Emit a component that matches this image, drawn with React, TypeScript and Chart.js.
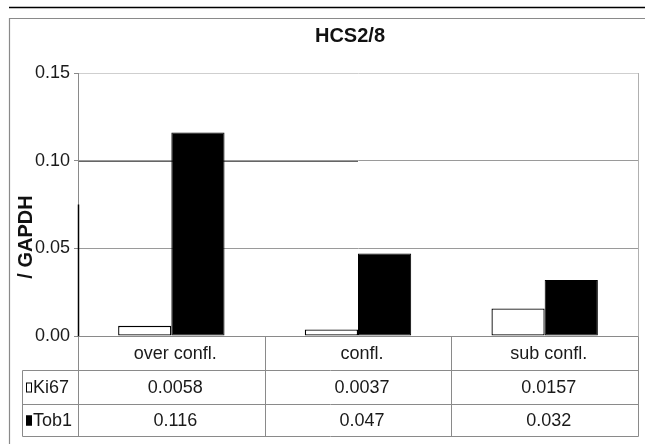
import React, { useEffect, useRef } from "react";
import { Chart, registerables } from "chart.js";

Chart.register(...registerables);

const chartTitle = "HCS2/8";
const yAxisTitle = "/ GAPDH";
const categories = ["over confl.", "confl.", "sub confl."];
const seriesNames = ["Ki67", "Tob1"];
const ki67Values = [0.0058, 0.0037, 0.0157];
const tob1Values = [0.116, 0.047, 0.032];
const yTickValues = [0, 0.05, 0.1, 0.15];

const FONT = "'Liberation Sans', Arial, Helvetica, sans-serif";
const seriesFill = ["#ffffff", "#000000"];
const seriesValues = [ki67Values, tob1Values];

const decorPlugin = {
  id: "decor",
  beforeDraw(chart: any) {
    const ctx = chart.ctx;
    ctx.save();
    ctx.fillStyle = "#ffffff";
    ctx.fillRect(0, 0, chart.width, chart.height);
    ctx.strokeStyle = "#000";
    ctx.lineWidth = 1.5;
    ctx.beginPath();
    ctx.moveTo(9, 7.5);
    ctx.lineTo(chart.width, 7.5);
    ctx.stroke();
    ctx.strokeStyle = "#8a8a8a";
    ctx.lineWidth = 1.2;
    ctx.beginPath();
    ctx.moveTo(9.5, chart.height);
    ctx.lineTo(9.5, 18.5);
    ctx.lineTo(chart.width, 18.5);
    ctx.stroke();
    ctx.fillStyle = "#111";
    ctx.font = `bold 20px ${FONT}`;
    ctx.textAlign = "center";
    ctx.textBaseline = "middle";
    ctx.fillText(chartTitle, 350, 36);
    ctx.translate(26, 237);
    ctx.rotate(-Math.PI / 2);
    ctx.font = `bold 20px ${FONT}`;
    ctx.fillText(yAxisTitle, 0, 0);
    ctx.restore();
  },
  beforeDatasetsDraw(chart: any) {
    const ctx = chart.ctx;
    const xs = chart.scales.x;
    const ys = chart.scales.y;
    const left = Math.round(chart.chartArea.left) + 0.5;
    ctx.save();
    ctx.strokeStyle = "#666";
    ctx.lineWidth = 1;
    ctx.beginPath();
    const g10 = Math.round(ys.getPixelForValue(0.1)) + 0.5;
    ctx.moveTo(left, g10);
    ctx.lineTo(xs.getPixelForValue(1), g10);
    ctx.stroke();
    ctx.restore();
  },
  afterDraw(chart: any) {
    const ctx = chart.ctx;
    const xs = chart.scales.x;
    const ys = chart.scales.y;
    const area = chart.chartArea;
    const n = categories.length;
    const colW = (area.right - area.left) / n;
    const top = Math.round(ys.getPixelForValue(0)) + 0.5;
    const rowH = [34, 34, 32];
    const r1 = top + rowH[0];
    const r2 = r1 + rowH[1];
    const r3 = r2 + rowH[2];
    const legendLeft = 22.5;
    const left = Math.round(area.left) + 0.5;
    const right = Math.round(area.right) + 0.5;

    ctx.save();
    ctx.strokeStyle = "#b0b0b0";
    ctx.lineWidth = 1;
    ctx.beginPath();
    ctx.moveTo(right, area.top);
    ctx.lineTo(right, top);
    ctx.stroke();

    ctx.strokeStyle = "#000";
    ctx.lineWidth = 1.5;
    ctx.beginPath();
    ctx.moveTo(left, ys.getPixelForValue(0.075));
    ctx.lineTo(left, top);
    ctx.stroke();

    ctx.strokeStyle = "#8a8a8a";
    ctx.lineWidth = 1;
    ctx.beginPath();
    ctx.moveTo(left, top);
    ctx.lineTo(right, top);
    ctx.moveTo(legendLeft, r1);
    ctx.lineTo(right, r1);
    ctx.moveTo(legendLeft, r2);
    ctx.lineTo(right, r2);
    ctx.moveTo(legendLeft, r3);
    ctx.lineTo(right, r3);
    ctx.moveTo(legendLeft, r1);
    ctx.lineTo(legendLeft, r3);
    ctx.moveTo(left, top);
    ctx.lineTo(left, r3);
    for (let k = 1; k <= n; k++) {
      const xx = Math.round(area.left + k * colW) + 0.5;
      ctx.moveTo(xx, top);
      ctx.lineTo(xx, r3);
    }
    ctx.stroke();

    ctx.fillStyle = "#1a1a1a";
    ctx.font = `18px ${FONT}`;
    ctx.textAlign = "center";
    ctx.textBaseline = "middle";
    for (let i = 0; i < n; i++) {
      const cx = xs.getPixelForValue(i) + 4;
      ctx.fillText(categories[i], cx, (top + r1) / 2 + 1);
      ctx.fillText(String(seriesValues[0][i]), cx, (r1 + r2) / 2 + 1);
      ctx.fillText(String(seriesValues[1][i]), cx, (r2 + r3) / 2 + 1);
    }
    const rows = [(r1 + r2) / 2, (r2 + r3) / 2];
    for (let s = 0; s < seriesNames.length; s++) {
      const cy = rows[s];
      ctx.fillStyle = seriesFill[s];
      ctx.fillRect(26, cy - 5, 6, 10);
      ctx.strokeStyle = "#000";
      ctx.lineWidth = 1;
      ctx.strokeRect(26.5, cy - 4.5, 5, 9);
      ctx.fillStyle = "#1a1a1a";
      ctx.textAlign = "left";
      ctx.fillText(seriesNames[s], 33, cy + 1);
    }
    ctx.restore();
  },
};

export default function App() {
  const canvasRef = useRef<HTMLCanvasElement | null>(null);

  useEffect(() => {
    document.body.style.margin = "0";
    const canvas = canvasRef.current;
    if (!canvas) return;
    const chart = new Chart(canvas, {
      type: "bar",
      data: {
        labels: categories,
        datasets: [
          {
            label: seriesNames[0],
            data: ki67Values,
            backgroundColor: seriesFill[0],
            borderColor: "#000",
            borderWidth: 1.3,
            borderSkipped: false,
            categoryPercentage: 0.57,
            barPercentage: 1,
          },
          {
            label: seriesNames[1],
            data: tob1Values,
            backgroundColor: seriesFill[1],
            borderColor: "#000",
            borderWidth: 1,
            borderSkipped: false,
            categoryPercentage: 0.57,
            barPercentage: 1,
          },
        ],
      },
      options: {
        animation: false,
        responsive: false,
        devicePixelRatio: 1,
        layout: { padding: { top: 73, right: 7, bottom: 108, left: 0 } },
        plugins: {
          legend: { display: false },
          title: { display: false },
          tooltip: { enabled: false },
        },
        scales: {
          x: {
            display: false,
          },
          y: {
            min: yTickValues[0],
            max: yTickValues[yTickValues.length - 1],
            afterBuildTicks: (scale: any) => {
              scale.ticks = yTickValues.map((v) => ({ value: v }));
            },
            afterFit: (scale: any) => {
              scale.width = 78;
            },
            ticks: {
              padding: 4,
              color: "#1a1a1a",
              font: { family: FONT, size: 18 },
              callback: (v: any) => Number(v).toFixed(2),
            },
            grid: {
              color: (c: any) => (c.tick && c.tick.value === 0.15 ? "#cfcfcf" : "#9a9a9a"),
              tickColor: "#8a8a8a",
              tickLength: 4,
              lineWidth: 1,
            },
            border: { display: true, color: "#8a8a8a", width: 1 },
          },
        },
      },
      plugins: [decorPlugin],
    });
    return () => chart.destroy();
  }, []);

  return (
    <div style={{ position: "fixed", left: 0, top: 0, width: 645, height: 444 }}>
      <canvas ref={canvasRef} width={645} height={444} />
    </div>
  );
}
